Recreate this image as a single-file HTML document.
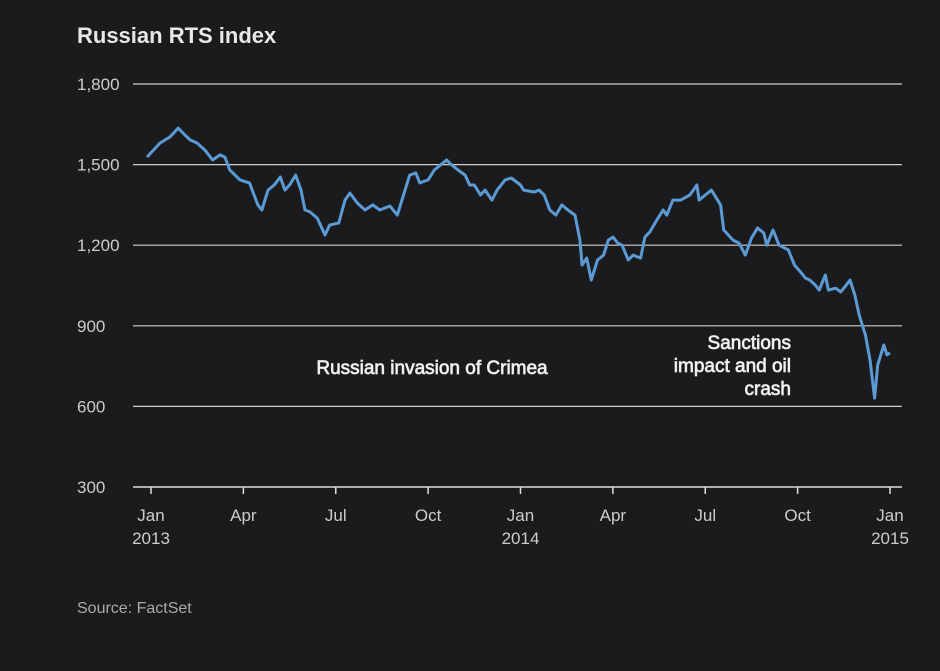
<!DOCTYPE html>
<html><head><meta charset="utf-8"><style>
body{margin:0;background:#1b1b1d;}
svg{display:block;font-family:"Liberation Sans",sans-serif;}
</style></head><body>
<svg width="940" height="671">
<rect width="940" height="671" fill="#1b1b1d"/>
<text x="77" y="43" fill="#e8e8e8" font-size="22" font-weight="bold">Russian RTS index</text>
<g id="grid"></g><g id="xaxis"></g>
<path id="line" fill="none" stroke="#5b9bd5" stroke-width="3" stroke-linejoin="round"/>
<g font-size="19" fill="#f4f4f4" stroke="#cfcfcf" stroke-width="0.8" paint-order="stroke">
<text x="432" y="374" text-anchor="middle">Russian invasion of Crimea</text>
<text text-anchor="end"><tspan x="791" y="349">Sanctions</tspan><tspan x="791" y="372">impact and oil</tspan><tspan x="791" y="395">crash</tspan></text>
</g>
<text x="77" y="613" fill="#aaa" font-size="16">Source: FactSet</text>
</svg>
<script>
const yTicks=[300,600,900,1200,1500,1800];
const xTickMonths=[0,3,6,9,12,15,18,21,24];
const xTickLabels=["Jan","Apr","Jul","Oct","Jan","Apr","Jul","Oct","Jan"];
const xTickYears=["2013","","","","2014","","","","2015"];
const months=[-0.13,0.29,0.62,0.88,1.1,1.27,1.5,1.75,2.0,2.24,2.4,2.56,2.89,3.2,3.47,3.6,3.8,4.0,4.2,4.35,4.5,4.7,4.87,5.0,5.16,5.4,5.65,5.8,6.1,6.3,6.46,6.7,6.95,7.2,7.43,7.76,8.0,8.2,8.4,8.6,8.73,9.0,9.2,9.4,9.6,9.77,9.97,10.2,10.35,10.5,10.7,10.85,11.07,11.24,11.5,11.7,12.0,12.1,12.45,12.6,12.77,12.95,13.15,13.34,13.54,13.77,13.93,14.0,14.15,14.3,14.5,14.7,14.85,15.0,15.16,15.3,15.5,15.66,15.9,16.04,16.2,16.43,16.63,16.75,16.95,17.2,17.5,17.73,17.8,18.0,18.2,18.5,18.6,18.9,19.1,19.3,19.5,19.7,19.9,20.0,20.2,20.4,20.7,20.9,21.1,21.25,21.4,21.57,21.7,21.9,22.0,22.24,22.4,22.5,22.7,22.86,23.0,23.2,23.35,23.5,23.6,23.8,23.9,24.0];
const values=[1528,1580,1603,1636,1610,1592,1580,1554,1517,1536,1528,1480,1443,1432,1350,1331,1405,1424,1454,1405,1424,1461,1405,1331,1324,1301,1238,1275,1283,1368,1394,1357,1331,1350,1331,1346,1312,1387,1461,1469,1432,1443,1480,1498,1517,1498,1480,1461,1424,1424,1387,1405,1368,1405,1443,1450,1424,1405,1398,1405,1387,1331,1312,1350,1331,1312,1219,1126,1152,1070,1145,1163,1219,1230,1208,1200,1145,1163,1152,1230,1249,1294,1331,1312,1368,1368,1387,1424,1368,1387,1405,1350,1257,1219,1208,1163,1226,1264,1245,1200,1257,1200,1182,1126,1100,1078,1070,1052,1033,1089,1033,1040,1026,1040,1070,1014,940,866,773,631,754,829,792,799];
const xS=m=>151+m*(739/24);
const yS=v=>487-(v-300)*(403/1500);
const NS="http://www.w3.org/2000/svg";
const grid=document.getElementById('grid');
yTicks.forEach(v=>{
 const l=document.createElementNS(NS,'line');
 
 
 l.setAttribute('x1',133);l.setAttribute('x2',902);l.setAttribute('y1',yS(v));l.setAttribute('y2',yS(v));
 l.setAttribute('stroke',v===300?'#ddd':'#cfcfcf');l.setAttribute('stroke-width',v===300?1.5:1.2);
 grid.appendChild(l);
 const t=document.createElementNS(NS,'text');
 
 
 t.setAttribute('x',77);t.setAttribute('y',yS(v)+6);t.setAttribute('fill','#ccc');t.setAttribute('font-size','17');
 t.textContent=v.toLocaleString('en-US');
 grid.appendChild(t);
});
const xa=document.getElementById('xaxis');
xTickMonths.forEach((m,i)=>{
 const x=xS(m);
 const l=document.createElementNS(NS,'line');
 
 
 l.setAttribute('x1',x);l.setAttribute('x2',x);l.setAttribute('y1',487);l.setAttribute('y2',494);
 l.setAttribute('stroke','#ddd');l.setAttribute('stroke-width',1.5);
 xa.appendChild(l);
 const t=document.createElementNS(NS,'text');
 
 
 t.setAttribute('x',x);t.setAttribute('y',521);t.setAttribute('fill','#ccc');t.setAttribute('font-size','17');t.setAttribute('text-anchor','middle');
 t.textContent=xTickLabels[i];
 xa.appendChild(t);
 if(xTickYears[i]){
  const y=document.createElementNS(NS,'text');
  
  
  y.setAttribute('x',x);y.setAttribute('y',544);y.setAttribute('fill','#ccc');y.setAttribute('font-size','17');y.setAttribute('text-anchor','middle');
  y.textContent=xTickYears[i];
  xa.appendChild(y);
 }
});
document.getElementById('line').setAttribute('d',months.map((m,i)=>(i?'L':'M')+xS(m).toFixed(1)+','+yS(values[i]).toFixed(1)).join(''));
</script>
</body></html>
